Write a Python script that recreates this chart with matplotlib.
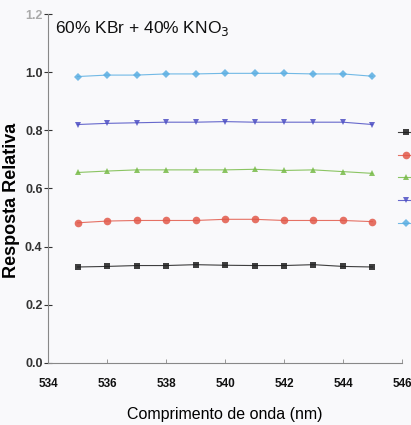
import numpy as np
import matplotlib.pyplot as plt

plt.rcParams['font.family'] = ['Liberation Sans', 'DejaVu Sans']

# wavelength (nm)
wl = [535, 536, 537, 538, 539, 540, 541, 542, 543, 544, 545]

# relative response of each series
s1 = [0.330, 0.332, 0.335, 0.335, 0.338, 0.336, 0.335, 0.335, 0.338, 0.332, 0.330]
s2 = [0.482, 0.488, 0.490, 0.490, 0.490, 0.494, 0.494, 0.490, 0.490, 0.490, 0.486]
s3 = [0.655, 0.660, 0.664, 0.664, 0.664, 0.664, 0.666, 0.662, 0.664, 0.658, 0.652]
s4 = [0.820, 0.824, 0.826, 0.828, 0.828, 0.830, 0.828, 0.828, 0.828, 0.828, 0.820]
s5 = [0.985, 0.990, 0.990, 0.994, 0.994, 0.996, 0.996, 0.996, 0.994, 0.994, 0.986]

series = [s1, s2, s3, s4, s5]
colors = ["#1e1e1e", "#e2594a", "#78bb48", "#4d4fc4", "#5aaee2"]
markers = ["s", "o", "^", "v", "D"]
msizes = [4.5, 5.5, 5, 5, 4.5]

fig = plt.figure(figsize=(4.11, 4.25), dpi=100)
fig.patch.set_facecolor("#f9f9fb")
ax = fig.add_axes([0.117, 0.146, 0.861, 0.821])
ax.set_facecolor("#f9f9fb")

handles = []
for y, c, m, ms in zip(series, colors, markers, msizes):
    h, = ax.plot(wl, y, color=c, marker=m, markersize=ms, linewidth=0.8,
                 alpha=0.85, markeredgewidth=0)
    handles.append(h)

ax.set_xlim(534, 546)
ax.set_ylim(0, 1.2)
ax.set_xticks(np.arange(534, 547, 2))
ax.set_yticks(np.arange(0, 1.21, 0.2))
ax.set_yticklabels(["0.0", "0.2", "0.4", "0.6", "0.8", "1.0", "1.2"])

for s in ["top", "right"]:
    ax.spines[s].set_visible(False)
for s in ["left", "bottom"]:
    ax.spines[s].set_color("#888888")
    ax.spines[s].set_linewidth(0.8)

ax.tick_params(axis="y", direction="inout", length=6, width=0.8,
               colors="#333333", labelsize=9, pad=1)
ax.tick_params(axis="x", direction="in", length=3, width=0.6,
               colors="#888888", labelcolor="#111111", labelsize=8.5, pad=11)
for t in ax.get_yticklabels():
    t.set_fontweight("bold")
for t in ax.get_xticklabels():
    t.set_fontweight("bold")
ax.get_yticklabels()[-1].set_color("#aaaaaa")

ax.text(0.02, 0.985, "60% KBr + 40% KNO$_3$", transform=ax.transAxes,
        fontsize=12.5, va="top", ha="left", color="#111111")

ax.set_xlabel("Comprimento de onda (nm)", fontsize=11.5, labelpad=12)
ax.set_ylabel("Resposta Relativa", fontsize=13, fontweight="bold")
ax.yaxis.set_label_coords(-0.078, 0.467)

# legend sits at the right edge, its labels fall outside the picture
ax.legend(handles, [""] * 5, loc="upper left", bbox_to_anchor=(0.99, 0.675),
          frameon=False, fontsize=9, borderaxespad=0, borderpad=0,
          handlelength=1.2, labelspacing=0.85, handletextpad=0.4)

fig.savefig("out.png", dpi=100, facecolor=fig.get_facecolor())
